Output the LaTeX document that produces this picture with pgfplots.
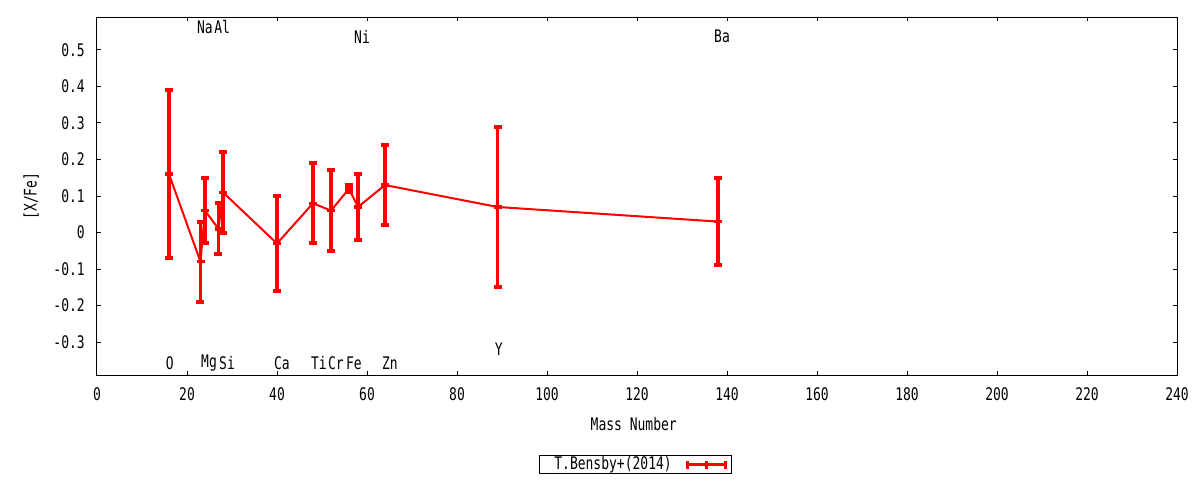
\documentclass[border=0pt]{standalone}
\usepackage{fontspec}
\setmainfont{DejaVu Sans Mono}[FakeStretch=0.75]
\setmonofont{DejaVu Sans Mono}[FakeStretch=0.75]
\usepackage{pgfplots}
\usepackage{pgfplotstable}
\pgfplotsset{compat=1.18}
\pgfplotstableread{
x y e
16 0.16 0.23
23 -0.08 0.11
24 0.06 0.09
27 0.01 0.07
28 0.11 0.11
40 -0.03 0.13
48 0.08 0.11
52 0.06 0.11
56 0.12 0.01
58 0.07 0.09
64 0.13 0.11
89 0.07 0.22
138 0.03 0.12
}\bensby
\newcommand{\gfont}{\fontsize{13}{15}\selectfont}
\begin{document}
\begin{tikzpicture}[font=\gfont]
\begin{axis}[
  scale only axis,
  width=810pt, height=268.5pt,
  xmin=0, xmax=240, ymin=-0.39, ymax=0.59,
  xtick={0,20,...,240},
  ytick={-0.3,-0.2,-0.1,0,0.1,0.2,0.3,0.4,0.5},
  tick align=inside,
  major tick length=3pt,
  minor tick num=0,
  axis line style={line width=0.75pt},
  every tick/.style={black, line width=0.75pt},
  /pgf/number format/assume math mode=true,
  /pgf/number format/fixed,
  xticklabel style={font=\gfont, anchor=center, inner sep=0pt, yshift=-14.25pt},
  yticklabel style={font=\gfont, anchor=east, inner sep=0pt, xshift=-9pt},
  xlabel={Mass Number},
  ylabel={[X/Fe]},
  xlabel style={font=\gfont, at={(axis description cs:0.497,-0.138)}, anchor=center},
  ylabel style={font=\gfont, at={(axis description cs:-0.061,0.5)}, anchor=center},
  clip=false,
]
\addplot[red, line width=1.5pt, mark=+, mark size=3pt,
  mark options={line width=2.5pt},
  error bars/.cd, y dir=both, y explicit,
  error bar style={line width=2.5pt, red},
  error mark=|,
  error mark options={line width=3pt, mark size=3pt, red},
] table[x=x, y=y, y error=e] {\bensby};
\node[anchor=center] at (axis cs:16.2,-0.358) {O};
\node[anchor=center] at (axis cs:24.0,0.563) {Na};
\node[anchor=center] at (axis cs:27.8,0.563) {Al};
\node[anchor=center] at (axis cs:24.9,-0.358) {Mg};
\node[anchor=center] at (axis cs:28.9,-0.358) {Si};
\node[anchor=center] at (axis cs:41.1,-0.358) {Ca};
\node[anchor=center] at (axis cs:49.3,-0.358) {Ti};
\node[anchor=center] at (axis cs:53.1,-0.358) {Cr};
\node[anchor=center] at (axis cs:57.1,-0.358) {Fe};
\node[anchor=center] at (axis cs:65.1,-0.358) {Zn};
\node[anchor=center] at (axis cs:58.9,0.536) {Ni};
\node[anchor=center] at (axis cs:89.3,-0.32) {Y};
\node[anchor=center] at (axis cs:138.9,0.536) {Ba};
% legend box
\node[draw=black, line width=0.75pt, minimum width=144pt, minimum height=14pt, inner sep=0pt]
  (leg) at (axis description cs:0.499,-0.25) {};
\node[anchor=west, inner sep=0pt] at ([xshift=11pt]leg.west) {T.Bensby+(2014)};
\draw[red, line width=2.5pt] ([xshift=-33.5pt]leg.east) -- ([xshift=-5pt]leg.east);
\draw[red, line width=2.5pt] ([xshift=-33.5pt,yshift=-3pt]leg.east) -- ([xshift=-33.5pt,yshift=3pt]leg.east);
\draw[red, line width=2.5pt] ([xshift=-19.25pt,yshift=-3pt]leg.east) -- ([xshift=-19.25pt,yshift=3pt]leg.east);
\draw[red, line width=2.5pt] ([xshift=-5pt,yshift=-3pt]leg.east) -- ([xshift=-5pt,yshift=3pt]leg.east);
\end{axis}
\pgfresetboundingbox
\path[use as bounding box] (-72.75pt,-78.75pt) rectangle (827.25pt,281.25pt);
\end{tikzpicture}
\end{document}
